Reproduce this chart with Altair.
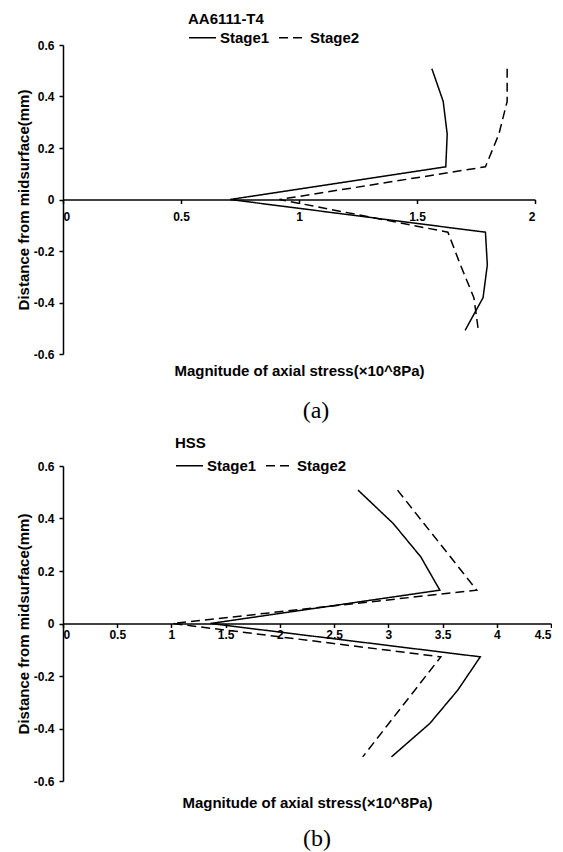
import altair as alt
import pandas as pd

# ---- data ----
depth = [0.508, 0.381, 0.254, 0.127, 0.0, -0.127, -0.254, -0.381, -0.508]
stages = ["Stage1", "Stage2"]

aa_stage1 = [1.563, 1.611, 1.628, 1.622, 0.708, 1.790, 1.798, 1.780, 1.704]
aa_stage2 = [1.882, 1.882, 1.847, 1.790, 0.917, 1.631, 1.684, 1.741, 1.760]
hss_stage1 = [2.721, 3.045, 3.299, 3.475, 1.359, 3.848, 3.640, 3.382, 3.029]
hss_stage2 = [3.085, 3.328, 3.572, 3.815, 1.012, 3.484, 3.244, 3.004, 2.764]

y_ticks = [-0.6, -0.4, -0.2, 0, 0.2, 0.4, 0.6]
aa_x_ticks = [0, 0.5, 1, 1.5, 2]
hss_x_ticks = [0, 0.5, 1, 1.5, 2, 2.5, 3, 3.5, 4, 4.5]

x_title = "Magnitude of axial stress(×10^8Pa)"
y_title = "Distance from midsurface(mm)"

SANS = "Liberation Sans"
SERIF = "Liberation Serif"


def make_df(s1, s2):
    rows = []
    for stage, vals in zip(stages, [s1, s2]):
        for i, (d, v) in enumerate(zip(depth, vals)):
            rows.append({"stage": stage, "order": i, "depth": d, "stress": v})
    return pd.DataFrame(rows)


def panel(df, name, xmax, xticks, w, h, lx, ly, ltp, lpad, xgap, caption, cap_dx, cap_off):
    return (
        alt.Chart(
            df,
            title=alt.TitleParams(
                caption, orient="bottom", font=SERIF, fontSize=24,
                fontWeight="normal", color="black", dx=cap_dx,
                offset=cap_off, anchor="middle",
            ),
        )
        .mark_line(color="black", strokeWidth=1.5)
        .encode(
            x=alt.X(
                "stress:Q",
                scale=alt.Scale(domain=[0, xmax], nice=False),
                axis=alt.Axis(
                    values=xticks, offset=-h / 2, title=x_title,
                    titleY=h / 2 + xgap, titleBaseline="middle",
                    labelPadding=lpad, labelExpr="'' + datum.value",
                ),
            ),
            y=alt.Y(
                "depth:Q",
                scale=alt.Scale(domain=[-0.6, 0.6], nice=False),
                axis=alt.Axis(
                    values=y_ticks, title=y_title,
                    labelExpr="'' + datum.value",
                    titlePadding=2, labelPadding=5,
                ),
            ),
            strokeDash=alt.StrokeDash(
                "stage:N",
                scale=alt.Scale(domain=stages, range=[[1, 0], [9, 5]]),
                legend=alt.Legend(
                    title=name, orient="none", legendX=lx, legendY=ly,
                    direction="horizontal", titleOrient="top",
                    titleAnchor="start", titlePadding=ltp,
                    symbolType="stroke", symbolSize=729,
                ),
            ),
            order="order:Q",
        )
        .properties(width=w, height=h)
    )


top = panel(make_df(aa_stage1, aa_stage2), "AA6111-T4", 2, aa_x_ticks,
            472, 309, 125, -33, -4, 8, 16.5, "(a)", 17, 20)
bottom = panel(make_df(hss_stage1, hss_stage2), "HSS", 4.5, hss_x_ticks,
               488, 315, 112, -30, 0, 2, 21.5, "(b)", 10, 16)

chart = (
    alt.vconcat(top, bottom, spacing=13)
    .resolve_scale(strokeDash="independent", x="independent", y="independent")
    .resolve_legend(strokeDash="independent")
    .properties(padding={"left": 8, "top": 4, "right": 0, "bottom": 0})
    .configure_view(stroke=None)
    .configure_axis(
        domainColor="black", domainWidth=1.5, tickColor="black", tickWidth=1.5,
        tickSize=4, grid=False, labelFont=SANS, labelFontSize=12,
        labelFontWeight="bold", labelColor="black", titleFont=SANS,
        titleFontSize=15, titleFontWeight="bold", titleColor="black",
    )
    .configure_legend(
        labelFont=SANS, labelFontSize=15, labelFontWeight="bold",
        labelColor="black", titleFont=SANS, titleFontSize=15,
        titleFontWeight="bold", titleColor="black", symbolStrokeColor="black",
        symbolStrokeWidth=1.5, labelOffset=3, columnPadding=6, padding=0,
    )
)

chart.save("out.html", embed_options={"renderer": "svg", "actions": False})
